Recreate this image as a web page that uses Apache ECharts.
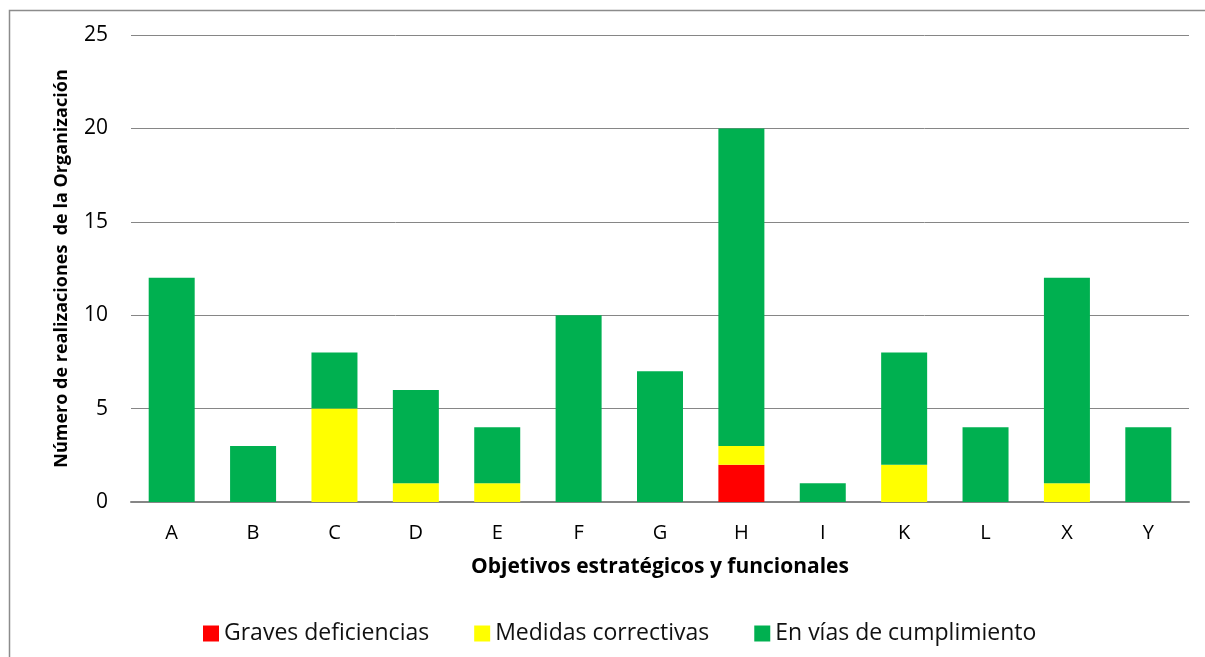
<!DOCTYPE html>
<html>
<head>
<meta charset="utf-8">
<script src="https://cdn.jsdelivr.net/npm/echarts@6/dist/echarts.min.js"></script>
<style>
  html, body { margin: 0; padding: 0; background: #fff; }
  #chart { width: 1205px; height: 657px; }
</style>
</head>
<body>
<div id="chart"></div>
<script>
  // categories and stacked values
  const categories = ['A', 'B', 'C', 'D', 'E', 'F', 'G', 'H', 'I', 'K', 'L', 'X', 'Y'];
  const graves = [0, 0, 0, 0, 0, 0, 0, 2, 0, 0, 0, 0, 0];
  const medidas = [0, 0, 5, 1, 1, 0, 0, 1, 0, 2, 0, 1, 0];
  const enVias = [12, 3, 3, 5, 3, 10, 7, 17, 1, 6, 4, 11, 4];
  const seriesNames = ['Graves deficiencias', 'Medidas correctivas', 'En vías de cumplimiento'];

  const font = '"Open Sans", "DejaVu Sans", sans-serif';
  const myChart = echarts.init(document.getElementById('chart'));

  const barSeries = (name, data, color) => ({
    name: name,
    type: 'bar',
    stack: 'total',
    barWidth: 46,
    data: data,
    itemStyle: { color: color },
  });

  const option = {
    animation: false,
    textStyle: { fontFamily: font },
    graphic: [
      {
        type: 'rect',
        shape: { x: 9.5, y: 10.5, width: 1400, height: 900 },
        style: { fill: 'none', stroke: '#8c8c8c', lineWidth: 1.5 },
        silent: true,
      },
    ],
    grid: { left: 131, right: 16, top: 35, bottom: 155 },
    legend: {
      left: 198,
      top: 617,
      itemWidth: 16,
      itemHeight: 16,
      itemGap: 45,
      icon: 'rect',
      data: seriesNames,
      textStyle: { fontSize: 23, color: '#111', fontFamily: font },
    },
    xAxis: {
      type: 'category',
      data: categories,
      name: 'Objetivos estratégicos y funcionales',
      nameLocation: 'middle',
      nameGap: 55,
      nameTextStyle: { fontSize: 21, fontWeight: 'bold', color: '#000' },
      axisLine: { lineStyle: { color: '#868686', width: 2 } },
      axisTick: { show: false },
      axisLabel: { fontSize: 20, color: '#000', margin: 21 },
    },
    yAxis: {
      type: 'value',
      min: 0,
      max: 25,
      interval: 5,
      name: 'Número de realizaciones  de la Organización',
      nameLocation: 'middle',
      nameGap: 60,
      nameRotate: 90,
      nameTextStyle: { fontSize: 18, fontWeight: 'bold', color: '#000' },
      axisLine: { show: false },
      axisTick: { show: false },
      axisLabel: { fontSize: 21, color: '#000', margin: 23 },
      splitLine: { lineStyle: { color: '#868686', width: 1 } },
    },
    series: [
      barSeries(seriesNames[0], graves, '#ff0000'),
      barSeries(seriesNames[1], medidas, '#ffff00'),
      barSeries(seriesNames[2], enVias, '#00b050'),
    ],
  };

  myChart.setOption(option);
</script>
</body>
</html>
